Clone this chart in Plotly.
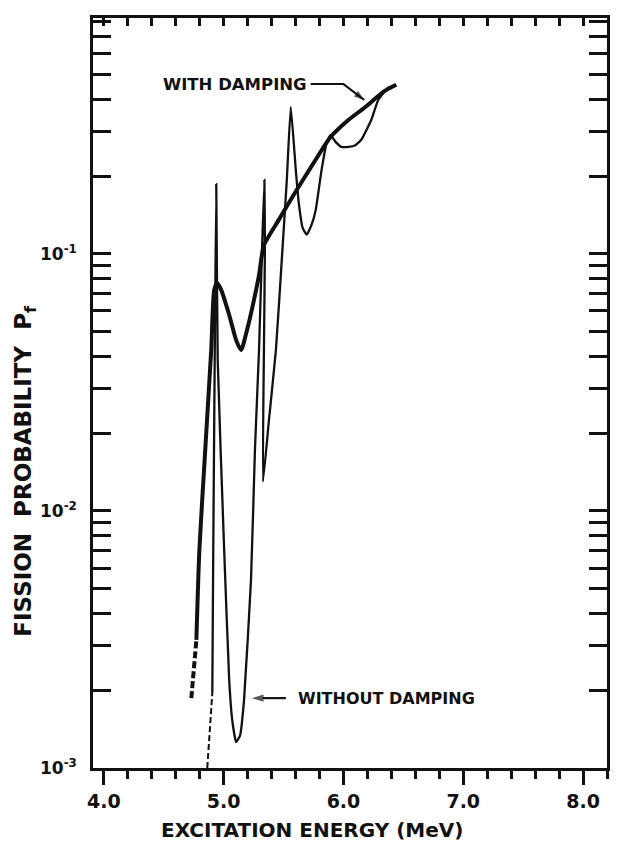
import plotly.graph_objects as go

# ---- data ----
# WITH DAMPING (thick curve)
damp_dash_E = [4.730, 4.772]
damp_dash_P = [0.00187, 0.00315]
damp_E = [4.772, 4.797, 4.846, 4.896, 4.921, 4.946, 4.979, 5.046, 5.104, 5.145, 5.195,
          5.253, 5.295, 5.336, 5.461, 5.585, 5.751, 5.892, 6.041, 6.183, 6.332, 6.440]
damp_P = [0.00315, 0.00705, 0.0173, 0.0423, 0.0725, 0.0771, 0.0725, 0.0579, 0.0462, 0.0423, 0.0506,
          0.0663, 0.0828, 0.108, 0.136, 0.170, 0.226, 0.285, 0.332, 0.373, 0.427, 0.455]

# WITHOUT DAMPING (thin curve)
nodamp_dash_E = [4.863, 4.888, 4.905]
nodamp_dash_P = [0.00100, 0.00154, 0.00196]
nodamp_E = [4.905, 4.913, 4.925, 4.938, 4.950, 5.004, 5.046, 5.071, 5.104, 5.137, 5.170,
            5.228, 5.261, 5.295, 5.320, 5.340, 5.344, 5.336, 5.328, 5.378, 5.436, 5.485,
            5.527, 5.560, 5.602, 5.627, 5.660, 5.693, 5.734, 5.768, 5.817, 5.859, 5.892,
            5.934, 5.983, 6.041, 6.100, 6.149, 6.232, 6.290, 6.373, 6.440]
nodamp_P = [0.00196, 0.00705, 0.0387, 0.187, 0.0387, 0.00705, 0.0022, 0.00154, 0.00126, 0.00134, 0.00184,
            0.0054, 0.0173, 0.0423, 0.104, 0.194, 0.104, 0.0423, 0.0130, 0.0226, 0.0423, 0.0948,
            0.194, 0.373, 0.212, 0.158, 0.126, 0.119, 0.130, 0.148, 0.212, 0.270, 0.290,
            0.273, 0.261, 0.261, 0.265, 0.278, 0.332, 0.397, 0.443, 0.455]

# label leaders (annotation geometry)
with_leader_E = [5.726, 6.000, 6.174]
with_leader_P = [0.458, 0.458, 0.397]
without_leader_E = [5.519, 5.237]
without_leader_P = [0.00187, 0.00187]

x_ticks = [4.0, 5.0, 6.0, 7.0, 8.0]
x_ticktext = ["4.0", "5.0", "6.0", "7.0", "8.0"]
y_ticks = [1e-3, 1e-2, 1e-1]
y_ticktext = ["10<sup>-3</sup>", "10<sup>-2</sup>", "10<sup>-1</sup>"]

x_minor = [round(4.0 + 0.2 * i, 1) for i in range(0, 22)]
y_minor = [m * 10.0 ** e for e in (-3, -2, -1) for m in range(2, 10)]

FONT = "DejaVu Sans"
INK = "#111111"

fig = go.Figure()
fig.add_trace(go.Scatter(x=damp_dash_E, y=damp_dash_P, mode="lines",
                         line=dict(color=INK, width=4, dash="7px,3px"), hoverinfo="skip"))
fig.add_trace(go.Scatter(x=damp_E, y=damp_P, mode="lines",
                         line=dict(color=INK, width=4, shape="spline", smoothing=0.6),
                         hoverinfo="skip"))
fig.add_trace(go.Scatter(x=nodamp_dash_E, y=nodamp_dash_P, mode="lines",
                         line=dict(color=INK, width=2, dash="6px,3px"), hoverinfo="skip"))
fig.add_trace(go.Scatter(x=nodamp_E, y=nodamp_P, mode="lines",
                         line=dict(color=INK, width=2.3, shape="spline", smoothing=0.4),
                         hoverinfo="skip"))
# leaders with arrowheads
fig.add_trace(go.Scatter(x=with_leader_E, y=with_leader_P, mode="lines+markers",
                         line=dict(color=INK, width=2),
                         marker=dict(symbol=["circle", "circle", "arrow"], size=[0, 0, 11],
                                     color=INK, angleref="previous", line=dict(width=0)),
                         hoverinfo="skip"))
fig.add_trace(go.Scatter(x=without_leader_E, y=without_leader_P, mode="lines+markers",
                         line=dict(color=INK, width=2.2),
                         marker=dict(symbol=["circle", "arrow"], size=[0, 12],
                                     color=INK, angleref="previous", line=dict(width=0)),
                         hoverinfo="skip"))
# invisible trace to activate top axis
fig.add_trace(go.Scatter(x=[4.0], y=[1e-2], xaxis="x2", mode="markers",
                         marker=dict(opacity=0), hoverinfo="skip"))

fig.update_layout(
    width=621, height=852,
    margin=dict(l=93, r=11, t=18, b=84),
    paper_bgcolor="white", plot_bgcolor="white",
    showlegend=False,
    font=dict(family=FONT, color=INK),
    xaxis=dict(
        range=[3.909, 8.2], tickmode="array", tickvals=x_ticks, ticktext=x_ticktext,
        ticks="outside", ticklen=14, tickwidth=2.5, tickcolor=INK,
        showline=True, linewidth=2.5, linecolor=INK, mirror=False,
        showgrid=False, zeroline=False,
        tickfont=dict(size=19, family=FONT, color=INK, weight="bold"),
        minor=dict(tickmode="array", tickvals=x_minor, ticks="outside",
                   ticklen=8, tickwidth=2.5, tickcolor=INK, showgrid=False),
    ),
    xaxis2=dict(
        overlaying="x", side="top", matches="x", range=[3.909, 8.2],
        tickmode="array", tickvals=x_minor, ticks="inside", ticklen=8, tickwidth=2.5,
        tickcolor=INK, showticklabels=False, showline=True, linewidth=2.5, linecolor=INK,
        showgrid=False, zeroline=False,
    ),
    yaxis=dict(
        type="log", range=[-3, -0.082], tickmode="array", tickvals=y_ticks, ticktext=y_ticktext,
        ticks="inside", ticklen=18, tickwidth=2.5, tickcolor=INK,
        showline=True, linewidth=2.5, linecolor=INK, mirror="allticks",
        showgrid=False, zeroline=False, ticklabelstandoff=10,
        tickfont=dict(size=17, family=FONT, color=INK, weight="bold"),
        minor=dict(tickmode="array", tickvals=y_minor, ticks="inside",
                   ticklen=11, tickwidth=2.5, tickcolor=INK, showgrid=False),
    ),
)

# axis titles
fig.add_annotation(x=0.427, y=-0.083, xref="paper", yref="paper",
                   text="EXCITATION ENERGY (MeV)", showarrow=False,
                   xanchor="center", yanchor="middle",
                   font=dict(size=20, family=FONT, color=INK, weight="bold"))
fig.add_annotation(x=-0.1315, y=0.397, xref="paper", yref="paper",
                   text="FISSION&nbsp;&nbsp;PROBABILITY&nbsp;&nbsp;P<sub>f</sub>",
                   showarrow=False, textangle=-90,
                   xanchor="center", yanchor="middle",
                   font=dict(size=23, family=FONT, color=INK, weight="bold"))

# curve labels
fig.add_annotation(x=5.710, y=-0.342, xref="x", yref="y", text="WITH DAMPING",
                   showarrow=False, xanchor="right", yanchor="middle",
                   font=dict(size=16.5, family=FONT, color=INK, weight="bold"))
fig.add_annotation(x=5.602, y=-2.728, xref="x", yref="y", text="WITHOUT DAMPING",
                   showarrow=False, xanchor="left", yanchor="middle",
                   font=dict(size=16, family=FONT, color=INK, weight="bold"))

fig.write_html("out.html")
